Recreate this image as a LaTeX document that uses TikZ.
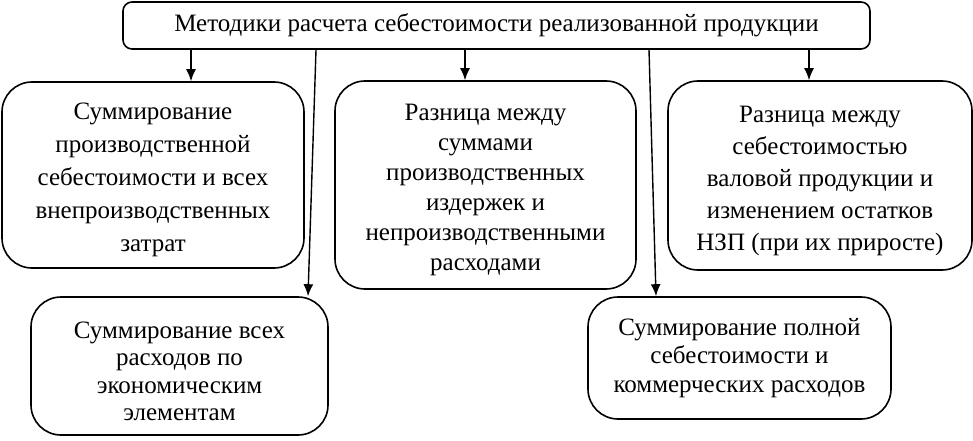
\documentclass[tikz,border=0pt]{standalone}
\usepackage{fontspec}
\setmainfont{Liberation Serif}
\usetikzlibrary{arrows.meta}
\newcommand{\firstline}{\rule{0pt}{27pt}}
\begin{document}
\begin{tikzpicture}[x=1pt,y=-1pt,
	box/.style={draw,line width=1.6pt,rounded corners=30pt,align=center,inner sep=0pt,font=\fontsize{25}{31}\selectfont},
	arr/.style={->,>={Latex[length=12pt,width=10pt]},line width=1.4pt}]
	\useasboundingbox (0,0) rectangle (973,441);
	\node[box,rounded corners=9pt,minimum width=747pt,minimum height=47pt](top) at (496.5,25.5){Методики расчета себестоимости реализованной продукции};
	\node[box,font=\fontsize{25}{33}\selectfont,minimum width=302pt,minimum height=186pt](b1) at (153,175){\firstline Суммирование\\производственной\\себестоимости и всех\\внепроизводственных\\затрат};
	\node[box,font=\fontsize{25}{30}\selectfont,minimum width=301pt,minimum height=208pt](b2) at (485.5,185){\firstline Разница между\\суммами\\производственных\\издержек и\\непроизводственными\\расходами};
	\node[box,font=\fontsize{25}{32}\selectfont,minimum width=304pt,minimum height=189pt](b3) at (820,175.5){\firstline Разница между\\себестоимостью\\валовой продукции и\\изменением остатков\\НЗП (при их приросте)};
	\node[box,font=\fontsize{25}{27.5}\selectfont,minimum width=297pt,minimum height=138pt](b4) at (179.5,366){\firstline Суммирование всех\\расходов по\\экономическим\\элементам};
	\node[box,font=\fontsize{25}{28.5}\selectfont,minimum width=303pt,minimum height=122pt](b5) at (739.5,358){Суммирование полной\\себестоимости и\\коммерческих расходов};
	% points on the boxes
	\coordinate (a1) at (191,0);
	\coordinate (a2) at (465,0);
	\coordinate (a3) at (809,0);
	\coordinate (s4) at (316,0);
	\coordinate (e4) at (308,0);
	\coordinate (s5) at (649,0);
	\coordinate (e5) at (656,0);
	\draw[arr](top.south -| a1)--(b1.north -| a1);
	\draw[arr](top.south -| a2)--(b2.north -| a2);
	\draw[arr](top.south -| a3)--(b3.north -| a3);
	\draw[arr](top.south -| s4)--(b4.north -| e4);
	\draw[arr](top.south -| s5)--(b5.north -| e5);
\end{tikzpicture}
\end{document}
